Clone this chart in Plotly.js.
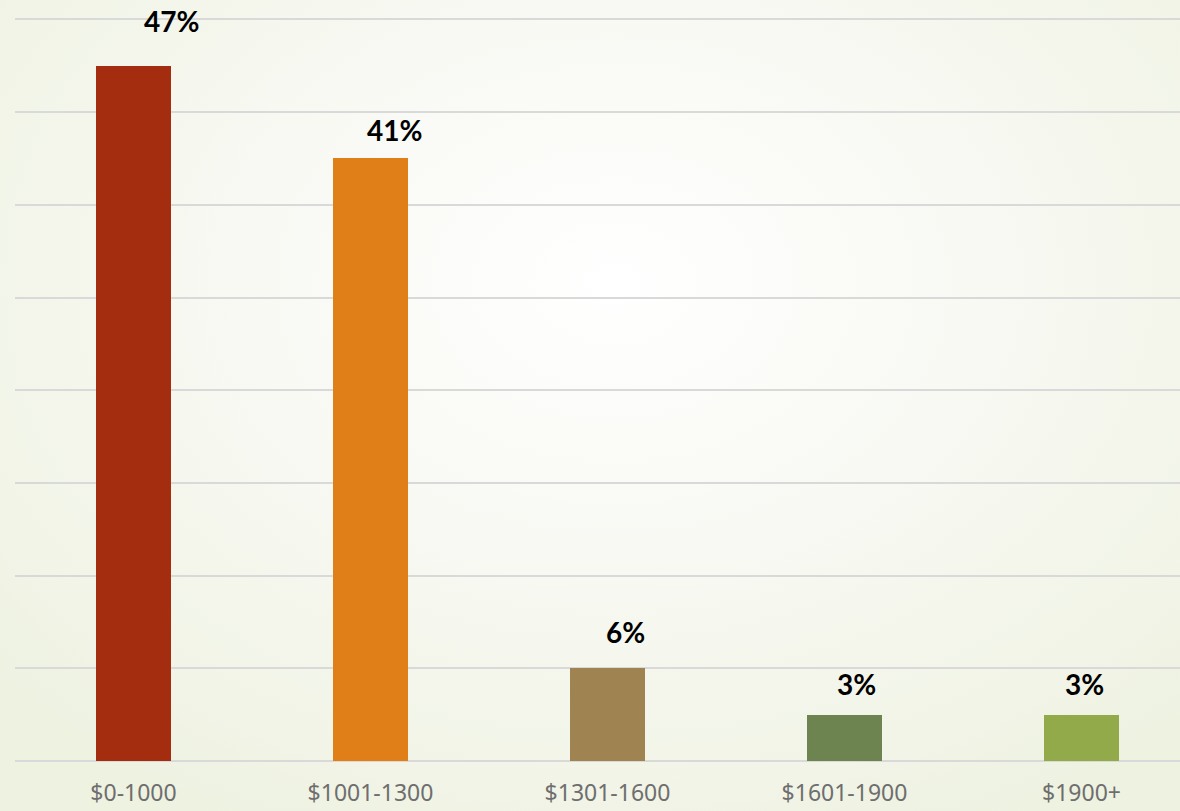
<!DOCTYPE html>
<html>
<head>
<meta charset="utf-8">
<script src="https://cdn.plot.ly/plotly-3.0.1.min.js"></script>
<style>
  html, body { margin: 0; padding: 0; width: 1180px; height: 811px; overflow: hidden; }
  body { background: radial-gradient(ellipse 70% 75% at 52% 35%, #ffffff 0%, #f8f9f3 45%, #eef2e1 100%); }
  #chart { width: 1180px; height: 811px; }
</style>
</head>
<body>
<div id="chart"></div>
<script>
// Data
const categories = ["$0-1000", "$1001-1300", "$1301-1600", "$1601-1900", "$1900+"];
const shares = [46.875, 40.625, 6.25, 3.125, 3.125];   // percent of respondents
const labels = ["47%", "41%", "6%", "3%", "3%"];

// Styling
const barColors = ["#A52D0F", "#E07F18", "#9F8350", "#6E8450", "#93AA4B"];
const labelNudgeX = [38, 24, 18, 12, 3];
const labelNudgeY = [26, 9, 17, 12, 12];

const annotations = categories.map((c, i) => ({
  x: c, y: shares[i], xref: "x", yref: "y",
  text: "<b>" + labels[i] + "</b>",
  showarrow: false, yanchor: "bottom",
  xshift: labelNudgeX[i], yshift: labelNudgeY[i],
  font: { family: "Lato, 'DejaVu Sans', sans-serif", size: 28, color: "#000000" }
}));

const trace = {
  type: "bar",
  x: categories,
  y: shares,
  width: 0.316,
  marker: { color: barColors, line: { width: 0 } },
  hoverinfo: "none"
};

const layout = {
  width: 1180, height: 811,
  margin: { l: 15, r: 0, t: 12, b: 50, pad: 0 },
  paper_bgcolor: "rgba(0,0,0,0)",
  plot_bgcolor: "rgba(0,0,0,0)",
  showlegend: false,
  bargap: 0,
  xaxis: {
    type: "category",
    range: [-0.5, 4.4156],
    showgrid: false, zeroline: false, showline: false,
    ticks: "",
    tickfont: { family: "'Noto Sans', 'DejaVu Sans', sans-serif", size: 23, color: "#6e6e6e" },
    ticklabelstandoff: 16
  },
  yaxis: {
    range: [0, 50.5],
    dtick: 6.25,
    tick0: 0,
    showticklabels: false,
    showgrid: true,
    gridcolor: "#d9d9d9",
    gridwidth: 2,
    zeroline: true,
    zerolinecolor: "#d9d9d9",
    zerolinewidth: 2,
    showline: false,
    ticks: ""
  },
  annotations: annotations
};

Plotly.newPlot("chart", [trace], layout, { displayModeBar: false, staticPlot: true });
</script>
</body>
</html>
